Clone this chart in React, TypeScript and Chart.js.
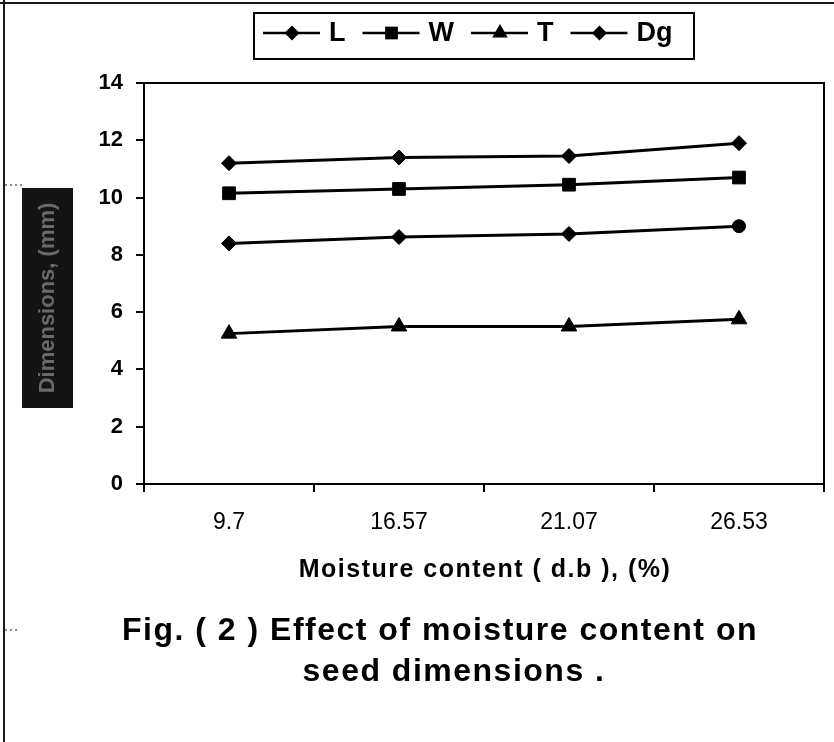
import React, { useEffect, useRef } from "react";
import { Chart, registerables } from "chart.js";

Chart.register(...registerables);

const categories = ["9.7", "16.57", "21.07", "26.53"];
const seriesNames = ["L", "W", "T", "Dg"];
const valuesL = [11.2, 11.4, 11.45, 11.9];
const valuesW = [10.15, 10.3, 10.45, 10.7];
const valuesT = [5.25, 5.5, 5.5, 5.75];
const valuesDg = [8.4, 8.62, 8.73, 9.0];
const yMin = 0;
const yMax = 14;
const yStep = 2;
const xTitle = "Moisture content ( d.b ), (%)";
const yTitle = "Dimensions, (mm)";
const captionLines = ["Fig. ( 2 ) Effect of moisture content on", "seed dimensions ."];

const FONT = "'Liberation Sans', Arial, sans-serif";

function drawMarker(ctx: CanvasRenderingContext2D, style: string, x: number, y: number, r: number) {
  ctx.beginPath();
  if (style === "rectRot") {
    ctx.moveTo(x - r, y);
    ctx.lineTo(x, y - r);
    ctx.lineTo(x + r, y);
    ctx.lineTo(x, y + r);
  } else if (style === "rect") {
    const s = r * Math.SQRT1_2;
    ctx.rect(x - s, y - s, 2 * s, 2 * s);
  } else if (style === "triangle") {
    ctx.moveTo(x, y - r);
    ctx.lineTo(x + r * 0.866, y + r / 2);
    ctx.lineTo(x - r * 0.866, y + r / 2);
  } else {
    ctx.arc(x, y, r, 0, Math.PI * 2);
  }
  ctx.closePath();
  ctx.fill();
}

const decorPlugin = {
  id: "decor",
  afterDraw(chart: any) {
    const ctx: CanvasRenderingContext2D = chart.ctx;
    const area = chart.chartArea;
    ctx.save();
    // page frame
    ctx.strokeStyle = "#1a1a1a";
    ctx.lineWidth = 2;
    ctx.beginPath();
    ctx.moveTo(0, 3);
    ctx.lineTo(chart.width, 3);
    ctx.moveTo(4, 0);
    ctx.lineTo(4, chart.height);
    ctx.stroke();
    ctx.lineWidth = 1;
    ctx.setLineDash([2, 3]);
    ctx.beginPath();
    ctx.moveTo(5, 185);
    ctx.lineTo(22, 185);
    ctx.moveTo(5, 630);
    ctx.lineTo(18, 630);
    ctx.stroke();
    ctx.setLineDash([]);

    // plot area frame (top + right)
    ctx.strokeStyle = "#000";
    ctx.lineWidth = 2;
    ctx.beginPath();
    ctx.moveTo(area.left, area.top);
    ctx.lineTo(area.right, area.top);
    ctx.lineTo(area.right, area.bottom);
    ctx.stroke();

    // legend
    const lx = 254, ly = 13, lw = 440, lh = 46;
    ctx.lineWidth = 2;
    ctx.strokeRect(lx, ly, lw, lh);
    ctx.font = `bold 27px ${FONT}`;
    ctx.textBaseline = "middle";
    ctx.textAlign = "left";
    ctx.fillStyle = "#000";
    let x = lx + 9;
    const cy = ly + 20;
    chart.data.datasets.forEach((ds: any) => {
      const style = Array.isArray(ds.pointStyle) ? ds.pointStyle[0] : ds.pointStyle;
      const rad = Array.isArray(ds.pointRadius) ? ds.pointRadius[0] : ds.pointRadius;
      ctx.lineWidth = 2.5;
      ctx.beginPath();
      ctx.moveTo(x, cy);
      ctx.lineTo(x + 57, cy);
      ctx.stroke();
      drawMarker(ctx, style, x + 29, cy, rad);
      const tx = x + 66;
      ctx.fillText(ds.label, tx, cy + 1);
      x = tx + ctx.measureText(ds.label).width + 17;
    });

    // y title block
    ctx.fillStyle = "#141414";
    ctx.fillRect(22, 188, 51, 220);
    ctx.save();
    ctx.translate(48, 298);
    ctx.rotate(-Math.PI / 2);
    ctx.fillStyle = "#6a6a6a";
    ctx.font = `bold 22px ${FONT}`;
    ctx.textAlign = "center";
    ctx.textBaseline = "middle";
    ctx.fillText(yTitle, 0, 0);
    ctx.restore();

    // x title
    ctx.fillStyle = "#000";
    ctx.textAlign = "center";
    ctx.textBaseline = "alphabetic";
    ctx.font = `bold 25px ${FONT}`;
    (ctx as any).letterSpacing = "1.5px";
    ctx.fillText(xTitle, (area.left + area.right) / 2 + 1, 577);
    ctx.font = `bold 32px ${FONT}`;
    (ctx as any).letterSpacing = "1.5px";
    ctx.fillText(captionLines[0], 440, 640);
    ctx.fillText(captionLines[1], 454, 681);
    (ctx as any).letterSpacing = "0px";
    ctx.restore();
  },
};

export default function App() {
  const ref = useRef<HTMLCanvasElement>(null);
  useEffect(() => {
    document.body.style.margin = "0";
    const common = {
      borderColor: "#000",
      backgroundColor: "#000",
      pointBackgroundColor: "#000",
      pointBorderColor: "#000",
      borderWidth: 3,
      pointBorderWidth: 1,
      tension: 0,
      fill: false,
    };
    const chart = new Chart(ref.current!, {
      type: "line",
      data: {
        labels: categories,
        datasets: [
          { ...common, label: seriesNames[0], data: valuesL, pointStyle: "rectRot", pointRadius: 7.5 },
          { ...common, label: seriesNames[1], data: valuesW, pointStyle: "rect", pointRadius: 9 },
          { ...common, label: seriesNames[2], data: valuesT, pointStyle: "triangle", pointRadius: 9 },
          {
            ...common,
            label: seriesNames[3],
            data: valuesDg,
            pointStyle: ["rectRot", "rectRot", "rectRot", "circle"],
            pointRadius: [7.5, 7.5, 7.5, 6.5],
          },
        ],
      },
      options: {
        responsive: false,
        animation: false,
        events: [],
        layout: { padding: { top: 83, right: 10, left: 0, bottom: 0 } },
        plugins: { legend: { display: false }, title: { display: false }, tooltip: { enabled: false } },
        scales: {
          x: {
            type: "category",
            offset: true,
            grid: { drawOnChartArea: false, drawTicks: true, tickLength: 8, color: "#000", lineWidth: 2, offset: true },
            border: { display: true, color: "#000", width: 2 },
            ticks: { color: "#000", font: { family: FONT, size: 23 }, padding: 17, maxRotation: 0 },
            afterFit: (s: any) => { s.height = 258; },
          },
          y: {
            min: yMin,
            max: yMax,
            grid: { drawOnChartArea: false, drawTicks: true, tickLength: 8, color: "#000", lineWidth: 2 },
            border: { display: true, color: "#000", width: 2 },
            ticks: { stepSize: yStep, color: "#000", font: { family: FONT, size: 22, weight: "bold" }, padding: 13 },
            afterFit: (s: any) => { s.width = 144; },
          },
        },
      },
      plugins: [decorPlugin],
    } as any);
    return () => chart.destroy();
  }, []);
  return <canvas ref={ref} width={834} height={742} style={{ display: "block" }} />;
}
